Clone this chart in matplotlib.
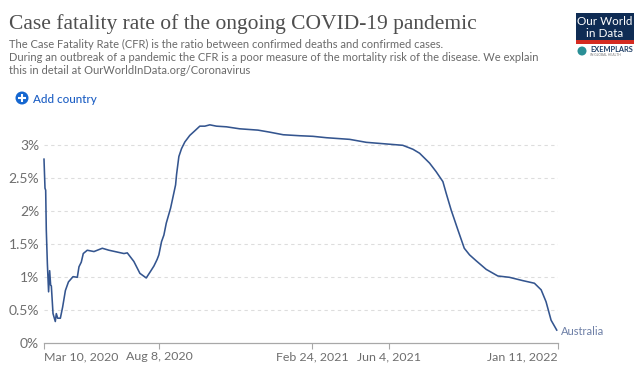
import matplotlib
matplotlib.use("Agg")
import matplotlib.pyplot as plt
from matplotlib.patches import Circle, Rectangle

days = [0, 1.3, 2.2, 3, 4.4, 6, 7.4, 8.7, 9.6, 11.8, 14.8, 16.1, 17.9, 21.4, 24.4, 28, 32, 38, 43.6, 45.8, 48.8, 51.4, 56.6, 65.4, 76.3,
        85, 104.6, 109, 117.6, 125.5, 133.8, 139.4, 143.8, 148, 150.3, 153.8, 156.9, 160, 165.7, 172.2, 173.5, 176.5, 180, 184.3,
        190.8, 197.4, 203.9, 210.5, 217, 225.7, 238.8, 256, 280, 295, 313, 334.6, 352, 369.5, 400, 421.8, 443, 469.5, 482.8, 491.5,
        504.6, 513.2, 522, 526.4, 532.8, 541.6, 550, 556.9, 565.6, 578.7, 593.9, 609, 626.5, 641.8, 650.6, 657, 663.6, 671]
cfr = [2.79, 2.35, 2.32, 1.72, 1.21, 0.78, 1.10, 0.88, 0.87, 0.45, 0.33, 0.45, 0.38, 0.38, 0.55, 0.80, 0.93, 1.01, 1.00, 1.16, 1.23, 1.36, 1.41, 1.39, 1.44,
       1.41, 1.36, 1.37, 1.24, 1.06, 0.99, 1.09, 1.17, 1.27, 1.34, 1.54, 1.64, 1.82, 2.05, 2.40, 2.56, 2.83, 2.95, 3.05,
       3.15, 3.22, 3.29, 3.29, 3.31, 3.29, 3.28, 3.25, 3.23, 3.20, 3.16, 3.145, 3.136, 3.115, 3.09, 3.045, 3.025, 3.00, 2.94, 2.88,
       2.73, 2.60, 2.45, 2.27, 2.02, 1.72, 1.44, 1.34, 1.25, 1.12, 1.02, 1.00, 0.95, 0.91, 0.81, 0.63, 0.35, 0.20]
y_ticks = [0, 0.5, 1, 1.5, 2, 2.5, 3]
y_labels = ["0%", "0.5%", "1%", "1.5%", "2%", "2.5%", "3%"]
x_ticks = [0, 151, 351, 451, 672]
x_labels = ["Mar 10, 2020", "Aug 8, 2020", "Feb 24, 2021", "Jun 4, 2021", "Jan 11, 2022"]
series_name = "Australia"
title = "Case fatality rate of the ongoing COVID-19 pandemic"
subtitle = ["The Case Fatality Rate (CFR) is the ratio between confirmed deaths and confirmed cases.",
            "During an outbreak of a pandemic the CFR is a poor measure of the mortality risk of the disease. We explain",
            "this in detail at OurWorldInData.org/Coronavirus"]

W, H = 640, 374
fig = plt.figure(figsize=(W / 100, H / 100), dpi=100, facecolor="white")
plt.rcParams["font.family"] = ["Lato", "DejaVu Sans"]

L, R, B, T = 44, 557.5, 343.3, 110
ax = fig.add_axes([L / W, 1 - B / H, (R - L) / W, (B - T) / H])
ax.set_xlim(0, 672)
ax.set_ylim(0, (B - T) / 66)
ax.plot(days, cfr, color="#34558f", lw=1.15, solid_joinstyle="round", clip_on=False)
for s in ["top", "left", "right"]:
    ax.spines[s].set_visible(False)
ax.spines["bottom"].set_color("#a8a8a8")
ax.spines["bottom"].set_linewidth(0.9)
ax.set_yticks(y_ticks)
ax.set_yticklabels(y_labels, fontsize=10, color="#6e6e6e")
ax.tick_params(axis="y", length=0, pad=3.5)
for v in y_ticks[1:]:
    ax.axhline(v, color="#dddddd", lw=0.8, ls=(0, (3, 3)), zorder=0)
ax.set_xticks(x_ticks)
ax.set_xticklabels(x_labels, fontsize=8.9, color="#6e6e6e")
ax.tick_params(axis="x", length=4, width=0.8, color="#a8a8a8", pad=1.5)
labs = ax.get_xticklabels()
labs[0].set_ha("left")
labs[-1].set_ha("right")
ax.text(676, cfr[-1] - 0.02, series_name, fontsize=8, color="#6d7fa6", va="center", ha="left", clip_on=False)

ov = fig.add_axes([0, 0, 1, 1], zorder=5)
ov.set_xlim(0, W)
ov.set_ylim(H, 0)
ov.axis("off")
ov.patch.set_alpha(0)
ov.text(9, 24, title, fontsize=15.45, family=["Liberation Serif", "DejaVu Serif"], color="#4f4f4f", va="center", ha="left")
for yy, line in zip([44, 57, 70], subtitle):
    ov.text(9, yy, line, fontsize=7.98, color="#6a6a6a", va="center", ha="left")
ov.add_patch(Circle((22, 98), 6.5, color="#1667d0", lw=0))
ov.plot([18.3, 25.7], [98, 98], color="white", lw=1.5, solid_capstyle="butt")
ov.plot([22, 22], [94.3, 101.7], color="white", lw=1.5, solid_capstyle="butt")
ov.text(33, 99.5, "Add country", fontsize=8.4, color="#1d5fc4", va="center", ha="left", fontweight="medium")

ov.add_patch(Rectangle((576, 13), 58, 31, color="#0f2c54", lw=0))
ov.add_patch(Rectangle((576, 40), 58, 4, color="#d42b21", lw=0))
ov.text(605, 21, "Our World", fontsize=8.4, color="white", ha="center", va="center")
ov.text(605, 33, "in Data", fontsize=8.4, color="white", ha="center", va="center")
ov.add_patch(Circle((582, 51), 4.5, color="#2a8f96", lw=0))
ov.text(590, 49.5, "EXEMPLARS", fontsize=5.3, color="#1f3f66", fontweight="bold", ha="left", va="center")
ov.text(590, 54.5, "IN GLOBAL HEALTH", fontsize=2.4, color="#777777", ha="left", va="center")

fig.savefig("out.png", dpi=100)
